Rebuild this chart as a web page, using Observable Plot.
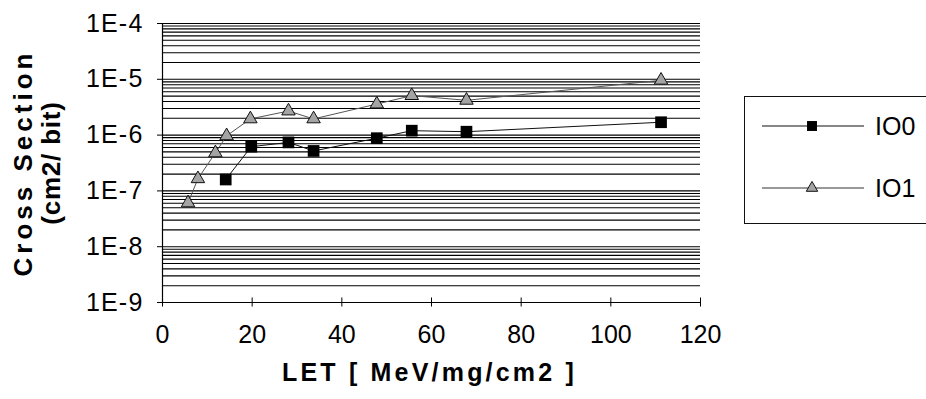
<!DOCTYPE html>
<html>
<head>
<meta charset="utf-8">
<script src="https://cdn.jsdelivr.net/npm/d3@7"></script>
<script src="https://cdn.jsdelivr.net/npm/@observablehq/plot@0.6"></script>
<style>
  html, body { margin: 0; padding: 0; background: #fff; overflow: hidden; }
  #wrap { position: relative; width: 926px; height: 399px; overflow: hidden;
          font-family: "Liberation Sans", Arial, sans-serif; }
  #legend { position: absolute; left: 744px; top: 96px; width: 240px; height: 128px;
            border: 1.5px solid #111; box-sizing: border-box; background: #fff; }
  #legend svg { display: block; }
</style>
</head>
<body>
<div id="wrap"></div>
<script>
// Heavy-ion SEU cross section per bit versus LET, two I/O configurations
const seriesNames = ["IO0", "IO1"];

const letIO0 = [14.1, 19.8, 28.1, 33.7, 47.8, 55.6, 67.8, 111.2];
const xsIO0  = [1.6e-7, 6.2e-7, 7.4e-7, 5.2e-7, 8.8e-7, 1.2e-6, 1.15e-6, 1.7e-6];

const letIO1 = [5.7, 7.9, 11.8, 14.3, 19.6, 28.1, 33.7, 47.8, 55.6, 67.8, 111.2];
const xsIO1  = [6.1e-8, 1.65e-7, 4.8e-7, 9.7e-7, 1.95e-6, 2.7e-6, 1.95e-6, 3.6e-6, 5.1e-6, 4.2e-6, 9.6e-6];

const xTicks = [0, 20, 40, 60, 80, 100, 120];
const yTicks = [1e-9, 1e-8, 1e-7, 1e-6, 1e-5, 1e-4];

const io0 = letIO0.map((x, i) => ({let: x, xs: xsIO0[i]}));
const io1 = letIO1.map((x, i) => ({let: x, xs: xsIO1[i]}));

const font = "'Liberation Sans', Arial, sans-serif";
const squareR = 6.6;
const triangleR = 5.0;
const triFill = "#a4a4a4";

const chart = Plot.plot({
  width: 926,
  height: 399,
  marginLeft: 162,
  marginRight: 226,
  marginTop: 23,
  marginBottom: 97,
  style: {fontFamily: font, color: "#000", background: "#fff"},
  x: {domain: [0, 120], label: null},
  y: {type: "log", domain: [1e-9, 1e-4], label: null},
  marks: [
    // log grid: one line per unit step in every decade
    Plot.gridY({ticks: 45, stroke: "#000", strokeOpacity: 1, strokeWidth: 1.1}),
    Plot.ruleX([0], {stroke: "#000", strokeWidth: 1.2}),
    Plot.ruleY([1e-9], {stroke: "#000", strokeWidth: 1.2}),
    // x ticks crossing the axis line
    Plot.axisX({ticks: xTicks, tickSize: 9, dy: -4.5, text: null, label: null, stroke: "#000"}),
    Plot.axisX({ticks: xTicks, tickSize: 0, tickPadding: 23, fontSize: 25, label: null, tickFormat: d => String(d)}),
    Plot.axisY({ticks: yTicks, tickSize: 5, tickPadding: 14, fontSize: 25, label: null,
                tickFormat: d => "1E" + Math.round(Math.log10(d))}),
    // series
    Plot.line(io0, {x: "let", y: "xs", stroke: "#111", strokeWidth: 1}),
    Plot.line(io1, {x: "let", y: "xs", stroke: "#555", strokeWidth: 1}),
    Plot.dot(io0, {x: "let", y: "xs", symbol: "square", r: squareR, fill: "#000", stroke: "none"}),
    Plot.dot(io1, {x: "let", y: "xs", symbol: "triangle", r: triangleR, fill: triFill, stroke: "#111", strokeWidth: 1}),
    // axis titles
    Plot.text(["LET [ MeV/mg/cm2 ]"], {frameAnchor: "bottom", lineAnchor: "top", dy: 61, dx: -2,
      fontSize: 25, fontWeight: "bold", fill: "#000"}),
    Plot.text(["Cross Section"], {frameAnchor: "left", rotate: -90, dx: -131, textAnchor: "middle",
      lineAnchor: "bottom", fontSize: 26, fontWeight: "bold", fill: "#000"}),
    Plot.text(["(cm2/ bit)"], {frameAnchor: "left", rotate: -90, dx: -103, textAnchor: "middle",
      lineAnchor: "bottom", fontSize: 26, fontWeight: "bold", fill: "#000"})
  ]
});

// letter spacing of the wide-set labels
d3.select(chart).selectAll("text").each(function () {
  const t = this.textContent;
  if (t === "LET [ MeV/mg/cm2 ]") this.setAttribute("letter-spacing", "3.2");
  else if (t === "Cross Section") this.setAttribute("letter-spacing", "4");
  else if (t === "(cm2/ bit)") this.setAttribute("letter-spacing", "0.8");
  else if (/^1E/.test(t)) this.setAttribute("letter-spacing", "1.2");
});

const wrap = document.getElementById("wrap");
wrap.appendChild(chart);

// legend box on the right
const legend = d3.select(wrap).append("div").attr("id", "legend");
const lsvg = legend.append("svg").attr("width", 200).attr("height", 126);
const rows = [
  {name: seriesNames[0], symbol: d3.symbolSquare, r: squareR * 0.85, fill: "#000", stroke: "none", line: "#111"},
  {name: seriesNames[1], symbol: d3.symbolTriangle, r: triangleR * 0.85, fill: triFill, stroke: "#111", line: "#333"}
];
rows.forEach((d, i) => {
  const g = lsvg.append("g").attr("transform", `translate(0, ${29 + i * 62})`);
  g.append("line").attr("x1", 17).attr("x2", 119).attr("y1", 0).attr("y2", 0)
    .attr("stroke", d.line).attr("stroke-width", 1);
  g.append("path").attr("transform", "translate(67,0)")
    .attr("d", d3.symbol(d.symbol, Math.PI * d.r * d.r)())
    .attr("fill", d.fill).attr("stroke", d.stroke);
  g.append("text").attr("x", 130).attr("y", 0).attr("dy", "0.35em")
    .attr("font-size", 25).attr("font-family", font).attr("fill", "#000").text(d.name);
});
</script>
</body>
</html>
